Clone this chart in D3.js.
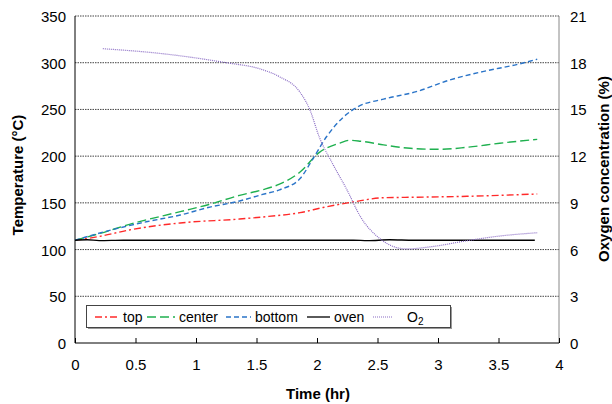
<!DOCTYPE html>
<html>
<head>
<meta charset="utf-8">
<script src="https://cdn.jsdelivr.net/npm/d3@7"></script>
<style>
  body { margin: 0; background: #fff; }
  svg { font-family: "Liberation Sans", Arial, sans-serif; }
</style>
</head>
<body>
<svg id="chart" width="612" height="404"></svg>
<script>
// temperatures (°C) and oxygen (%), time in hours
const topData = [[0, 110], [0.2, 114], [0.45, 121], [0.87, 128.5], [1.36, 132.7], [1.6, 135.5], [1.86, 139.5], [2.05, 145], [2.3, 151], [2.55, 155.5], [2.8, 156], [3.24, 157], [3.5, 158], [3.82, 159.5]]
const centerData = [[0, 110], [0.2, 117], [0.45, 127], [0.87, 140.6], [1.1, 148], [1.36, 158], [1.55, 164], [1.69, 170], [1.86, 183], [2.02, 204], [2.19, 214], [2.27, 217], [2.36, 216], [2.55, 212], [2.77, 208.4], [3.02, 207.3], [3.24, 209.5], [3.51, 213.8], [3.82, 218]]
const bottomData = [[0, 110], [0.3, 121], [0.6, 130], [0.87, 137], [1.1, 145], [1.36, 152], [1.55, 159], [1.69, 164], [1.86, 176], [1.97, 198], [2.08, 221], [2.22, 242], [2.34, 253], [2.55, 261], [2.82, 269], [3.1, 281.6], [3.37, 290.5], [3.65, 298], [3.82, 303.7]]
const ovenData = [[0, 110], [0.1, 110.5], [0.2, 109.5], [0.4, 110], [0.8, 110], [1.2, 110], [1.6, 110], [2.0, 110], [2.3, 110], [2.42, 109.5], [2.6, 110.5], [2.8, 110], [3.2, 110], [3.6, 110], [3.8, 110]]
const o2Data = [[0.23, 18.9], [0.7, 18.6], [1.25, 18.0], [1.53, 17.6], [1.69, 17.1], [1.86, 16.1], [1.94, 15.0], [2.02, 13.2], [2.13, 11.5], [2.25, 9.8], [2.36, 8.1], [2.52, 6.7], [2.63, 6.2], [2.74, 6.04], [2.96, 6.2], [3.24, 6.57], [3.51, 6.87], [3.82, 7.08]]

const xTicks = [0, 0.5, 1, 1.5, 2, 2.5, 3, 3.5, 4]
const tempTicks = [0, 50, 100, 150, 200, 250, 300, 350]
const o2Ticks = [0, 3, 6, 9, 12, 15, 18, 21]

const svg = d3.select('#chart')
const plotL = 75, plotR = 559, plotT = 16, plotB = 343

const x = d3.scaleLinear().domain([0, 4]).range([plotL, plotR])
const yT = d3.scaleLinear().domain([0, 350]).range([plotB, plotT])
const yO = d3.scaleLinear().domain([0, 21]).range([plotB, plotT])

// gridlines
svg.append('g')
  .selectAll('line')
  .data(tempTicks.filter(d => d > 0))
  .join('line')
  .attr('x1', plotL).attr('x2', plotR)
  .attr('y1', d => yT(d)).attr('y2', d => yT(d))
  .attr('stroke', '#444')
  .attr('stroke-width', 1)
  .attr('stroke-dasharray', '1.5,1')

// right axis (gray)
svg.append('line')
  .attr('x1', plotR).attr('x2', plotR)
  .attr('y1', plotT).attr('y2', plotB)
  .attr('stroke', '#888')

// left axis
svg.append('line')
  .attr('x1', plotL).attr('x2', plotL)
  .attr('y1', plotT).attr('y2', plotB)
  .attr('stroke', '#000')

// bottom axis with inward ticks
const xAxis = svg.append('g')
  .attr('transform', `translate(0,${plotB})`)
  .call(d3.axisBottom(x).tickValues(xTicks).tickSize(-5).tickFormat(d3.format('')))
xAxis.select('.domain').attr('stroke', '#000').attr('d', `M${plotL},0H${plotR}`)
xAxis.selectAll('.tick line').attr('stroke', '#000')
xAxis.selectAll('.tick text').attr('font-size', 15).attr('fill', '#000').attr('dy', 0).attr('y', 27)

// y labels
svg.append('g')
  .selectAll('text')
  .data(tempTicks)
  .join('text')
  .attr('x', 66)
  .attr('y', d => yT(d) + 6)
  .attr('text-anchor', 'end')
  .attr('font-size', 15)
  .text(d => d)

svg.append('g')
  .selectAll('text')
  .data(o2Ticks)
  .join('text')
  .attr('x', 570)
  .attr('y', d => yO(d) + 6)
  .attr('font-size', 15)
  .text(d => d)

// axis titles
svg.append('text')
  .attr('x', (plotL + plotR) / 2 + 1).attr('y', 399)
  .attr('text-anchor', 'middle')
  .attr('font-size', 15).attr('font-weight', 'bold')
  .text('Time (hr)')

svg.append('text')
  .attr('transform', 'translate(23,175) rotate(-90)')
  .attr('text-anchor', 'middle')
  .attr('font-size', 15).attr('font-weight', 'bold')
  .text('Temperature (°C)')

svg.append('text')
  .attr('transform', 'translate(609,169) rotate(-90)')
  .attr('text-anchor', 'middle')
  .attr('font-size', 15).attr('font-weight', 'bold')
  .text('Oxygen concentration (%)')

// series
const series = [
  { name: 'top', data: topData, y: yT, color: '#ff2a2a', dash: '7,3,2,3', width: 1.4 },
  { name: 'center', data: centerData, y: yT, color: '#1fb04f', dash: '9,4', width: 1.4 },
  { name: 'bottom', data: bottomData, y: yT, color: '#2a74c8', dash: '5,3', width: 1.4 },
  { name: 'oven', data: ovenData, y: yT, color: '#000', dash: null, width: 1.3 },
  { name: 'O2', data: o2Data, y: yO, color: '#8a6cc4', dash: '1,1', width: 1.2 }
]

series.forEach(s => {
  const line = d3.line().x(d => x(d[0])).y(d => s.y(d[1])).curve(d3.curveMonotoneX)
  svg.append('path')
    .datum(s.data)
    .attr('d', line)
    .attr('fill', 'none')
    .attr('stroke', s.color)
    .attr('stroke-width', s.width)
    .attr('stroke-dasharray', s.dash)
})

// legend
const lg = svg.append('g')
lg.append('rect').attr('x', 88).attr('y', 307).attr('width', 364).attr('height', 22).attr('fill', '#999')
lg.append('rect').attr('x', 86.5).attr('y', 305.5).attr('width', 364).attr('height', 22)
  .attr('fill', '#fff').attr('stroke', '#444')

const legendItems = [
  { s: series[0], x0: 95, x1: 119, tx: 123, label: 'top' },
  { s: series[1], x0: 147, x1: 175, tx: 179, label: 'center' },
  { s: series[2], x0: 226, x1: 251, tx: 255, label: 'bottom' },
  { s: series[3], x0: 307, x1: 330, tx: 334, label: 'oven' },
  { s: series[4], x0: 373, x1: 393, tx: 407, label: 'O' }
]
legendItems.forEach(it => {
  lg.append('line')
    .attr('x1', it.x0).attr('x2', it.x1)
    .attr('y1', 317).attr('y2', 317)
    .attr('stroke', it.s.color)
    .attr('stroke-width', it.s.width)
    .attr('stroke-dasharray', it.s.dash)
  const t = lg.append('text')
    .attr('x', it.tx).attr('y', 322)
    .attr('font-size', 14)
    .text(it.label)
  if (it.label === 'O') {
    t.append('tspan').attr('font-size', 10).attr('dy', 3).text('2')
  }
})
</script>
</body>
</html>
